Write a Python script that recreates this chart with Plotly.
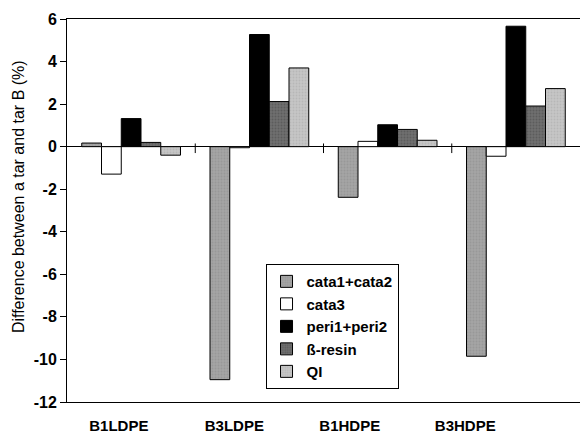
import plotly.graph_objects as go

categories = ["B1LDPE", "B3LDPE", "B1HDPE", "B3HDPE"]
series_names = ["cata1+cata2", "cata3", "peri1+peri2", "ß-resin", "QI"]
cata12 = [0.17, -10.95, -2.38, -9.85]
cata3 = [-1.29, -0.05, 0.25, -0.45]
peri12 = [1.32, 5.27, 1.03, 5.66]
bresin = [0.2, 2.12, 0.81, 1.91]
qi = [-0.4, 3.7, 0.3, 2.73]
y_ticks = [-12, -10, -8, -6, -4, -2, 0, 2, 4, 6]
y_title = "Difference between a tar and tar B (%)"

series_values = [cata12, cata3, peri12, bresin, qi]
fills = ["#a4a4a4", "#ffffff", "#000000", "#6f6f6f", "#c6c6c6"]
pat_fg = ["#8c8c8c", None, None, "#4a4a4a", "#a8a8a8"]

FONT = "Liberation Sans, Arial, sans-serif"

fig = go.Figure()
for name, vals, fc, pf in zip(series_names, series_values, fills, pat_fg):
    marker = dict(color=fc, line=dict(color="black", width=1))
    if pf:
        marker["pattern"] = dict(shape=".", fgcolor=pf, bgcolor=fc, size=3, solidity=0.35)
    fig.add_trace(go.Bar(x=categories, y=vals, name=name, marker=marker))

# invisible helper trace for the label axis
fig.add_trace(go.Scatter(x=list(range(len(categories))), y=[0] * len(categories),
                         xaxis="x2", mode="markers", marker=dict(opacity=0),
                         showlegend=False, hoverinfo="skip"))

# small ticks at category boundaries on the zero line
for i in range(len(categories) - 1):
    fig.add_shape(type="line", xref="x", yref="y", x0=i + 0.5, x1=i + 0.5,
                  y0=-0.3, y1=0.15, line=dict(color="black", width=1))

fig.add_annotation(text=y_title, textangle=-90, xref="paper", yref="paper",
                   x=-0.0955, y=0.535, xanchor="center", yanchor="middle",
                   showarrow=False, font=dict(size=16, family=FONT, color="black"))

fig.update_layout(
    width=580, height=434,
    margin=dict(l=67, r=0, t=19, b=32),
    paper_bgcolor="white", plot_bgcolor="white",
    barmode="group", bargap=0.23, bargroupgap=0,
    font=dict(family=FONT, color="black"),
    xaxis=dict(type="category", range=[-0.5, 3.5], showticklabels=False,
               showline=False, ticks="", showgrid=False, zeroline=False),
    xaxis2=dict(overlaying="x", range=[-0.449, 3.994], tickmode="array",
                tickvals=list(range(len(categories))),
                ticktext=[f"<b>{c}</b>" for c in categories],
                showline=True, mirror=True, linecolor="black", linewidth=1,
                ticks="outside", ticklen=0, ticklabelstandoff=10,
                tickfont=dict(size=15, family=FONT),
                showgrid=False, zeroline=False, side="bottom", anchor="y"),
    yaxis=dict(range=[-12, 6], tickmode="array", tickvals=y_ticks,
               ticktext=[f"<b>{v}</b>" for v in y_ticks],
               ticks="outside", ticklen=6,
               tickcolor="black", showline=True, linecolor="black", linewidth=1,
               showgrid=False, zeroline=True, zerolinecolor="black", zerolinewidth=1,
               tickfont=dict(size=16, family=FONT)),
    legend=dict(x=0.387, y=0.36, xanchor="left", yanchor="top",
                bordercolor="black", borderwidth=1, bgcolor="white",
                font=dict(size=15, family=FONT, weight="bold"), itemwidth=30,
                tracegroupgap=0),
    showlegend=True,
)

fig.write_html("out.html", config={"displayModeBar": False},
               post_script="document.body.style.margin='0';document.body.style.overflow='hidden';")
